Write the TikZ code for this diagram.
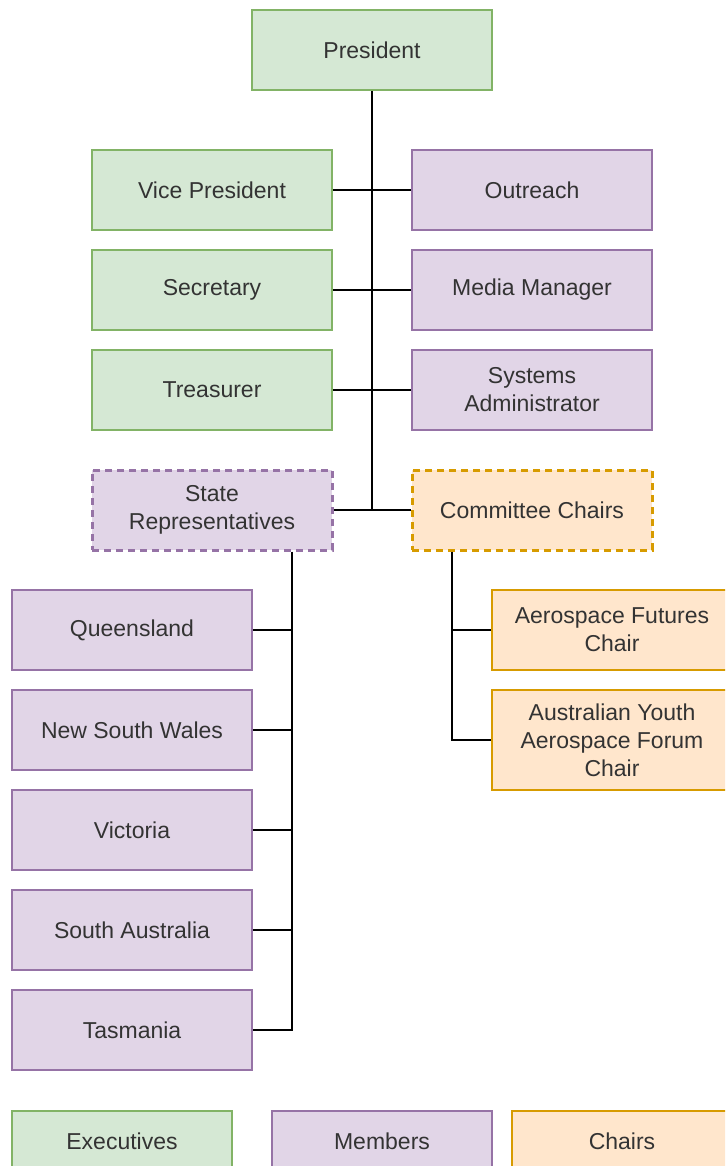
\documentclass[tikz,border=0pt]{standalone}
\usepackage{fontspec}
\setmainfont{Liberation Sans}
\usepackage{tikz}
\usetikzlibrary{positioning}

\definecolor{exfill}{HTML}{D5E8D4}
\definecolor{exline}{HTML}{82B366}
\definecolor{mefill}{HTML}{E1D5E7}
\definecolor{meline}{HTML}{9673A6}
\definecolor{chfill}{HTML}{FFE6CC}
\definecolor{chline}{HTML}{D79B00}

\begin{document}
\begin{tikzpicture}[
  x=1pt, y=-1pt,
  role/.style={minimum width=240pt, minimum height=80pt, line width=1.6pt,
    align=center, text=black!80, font=\fontsize{23}{28}\selectfont, inner sep=0pt},
  exec/.style={role, fill=exfill, draw=exline},
  member/.style={role, fill=mefill, draw=meline},
  chair/.style={role, fill=chfill, draw=chline},
  group/.style={dash pattern=on 7pt off 5pt, line width=3pt},
  key/.style={minimum width=220pt, minimum height=60pt},
  link/.style={draw=black, line width=1.6pt}
]
\clip (0,0) rectangle (725,1166);
\fill[white] (0,0) rectangle (725,1166);

% Executive line
\node[exec] (pres) at (372,50) {President};
\node[exec] (vp) at (212,190) {Vice President};
\node[exec] (sec) at (212,290) {Secretary};
\node[exec] (treas) at (212,390) {Treasurer};

\node[member] (outreach) at (532,190) {Outreach};
\node[member] (media) at (532,290) {Media Manager};
\node[member] (sysadmin) at (532,390) {Systems\\Administrator};

% Groups
\node[member, group] (staterep) at (212,510) {State\\Representatives};
\node[chair, group] (comm) at (532,510) {Committee Chairs};

\coordinate (hub) at (372,510);
\draw[link] (pres.south) -- (hub);
\draw[link] (vp.east) -- (outreach.west);
\draw[link] (sec.east) -- (media.west);
\draw[link] (treas.east) -- (sysadmin.west);
\draw[link] (staterep.east) -- (comm.west);

% States
\node[member] (qld) at (132,630) {Queensland};
\node[member] (nsw) at (132,730) {New South Wales};
\node[member] (vic) at (132,830) {Victoria};
\node[member] (sa) at (132,930) {South Australia};
\node[member] (tas) at (132,1030) {Tasmania};

\draw[link] ([xshift=80pt]staterep.south) |- (tas.east);
\foreach \s in {qld,nsw,vic,sa}
  \draw[link] (\s.east) -- ++(40,0);

% Committee chairs
\node[chair] (afc) at (612,630) {Aerospace Futures\\Chair};
\node[chair, minimum height=100pt] (ayaf) at (612,740) {Australian Youth\\Aerospace Forum\\Chair};

\draw[link] ([xshift=-80pt]comm.south) |- (ayaf.west);
\draw[link] (afc.west) -- ++(-40,0);

% Legend
\node[exec, key] (kexec) at (122,1141) {Executives};
\node[member, key] (kmem) at (382,1141) {Members};
\node[chair, key] (kchair) at (622,1141) {Chairs};

\end{tikzpicture}
\end{document}
